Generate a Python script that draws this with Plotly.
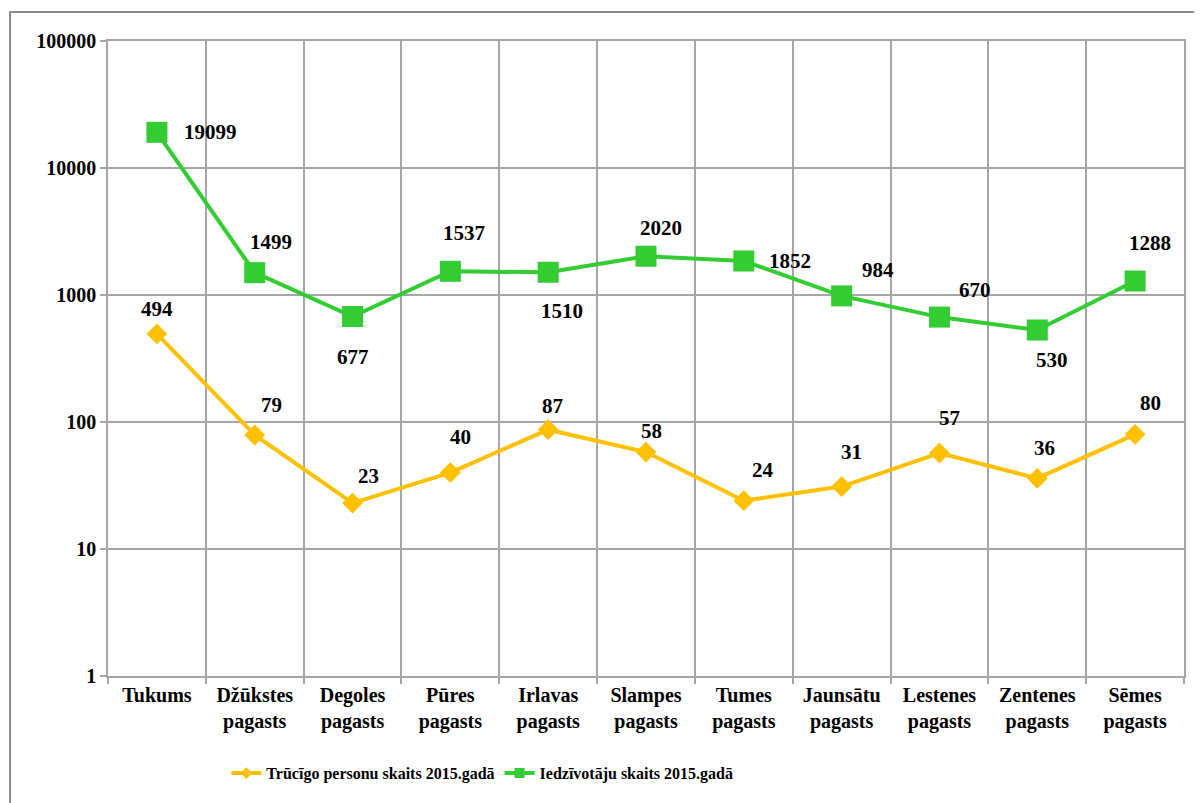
import numpy as np
import plotly.graph_objects as go

categories = ["Tukums", "Džūkstes<br>pagasts", "Degoles<br>pagasts", "Pūres<br>pagasts",
              "Irlavas<br>pagasts", "Slampes<br>pagasts", "Tumes<br>pagasts",
              "Jaunsātu<br>pagasts", "Lestenes<br>pagasts", "Zentenes<br>pagasts",
              "Sēmes<br>pagasts"]
poor_2015 = [494, 79, 23, 40, 87, 58, 24, 31, 57, 36, 80]
residents_2015 = [19099, 1499, 677, 1537, 1510, 2020, 1852, 984, 670, 530, 1288]
series_names = ["Trūcīgo personu skaits 2015.gadā", "Iedzīvotāju skaits 2015.gadā"]
y_tick_values = [1, 10, 100, 1000, 10000, 100000]

# label offsets in pixels (dx, dy up)
poor_offsets = [(0, 25), (17, 30), (16, 27), (10, 36), (4, 24), (5, 21), (19, 31),
                (10, 35), (10, 35), (7, 30), (15, 31)]
res_offsets = [(54, 0), (16, 31), (0, -40), (14, 38), (14, -39), (15, 28), (46, 0),
               (36, 26), (36, 27), (15, -30), (15, 38)]

FONT = "Liberation Serif"
ORANGE = "#FFC000"
GREEN = "#33CC33"
GRID = "#a6a6a6"

x = list(range(len(categories)))
fig = go.Figure()
fig.add_trace(go.Scatter(x=x, y=poor_2015, name=series_names[0], mode="lines+markers",
                         line=dict(color=ORANGE, width=4), showlegend=False,
                         marker=dict(symbol="diamond", size=16, color=ORANGE)))
fig.add_trace(go.Scatter(x=x, y=residents_2015, name=series_names[1], mode="lines+markers",
                         line=dict(color=GREEN, width=4), showlegend=False,
                         marker=dict(symbol="square", size=21, color=GREEN)))
# legend entries (line with small marker, as in the original legend)
fig.add_trace(go.Scatter(x=[None], y=[None], name=series_names[0], mode="lines+markers",
                         line=dict(color=ORANGE, width=4),
                         marker=dict(symbol="diamond", size=9, color=ORANGE)))
fig.add_trace(go.Scatter(x=[None], y=[None], name=series_names[1], mode="lines+markers",
                         line=dict(color=GREEN, width=4),
                         marker=dict(symbol="square", size=10, color=GREEN)))

annotations = []
for vals, offs in ((poor_2015, poor_offsets), (residents_2015, res_offsets)):
    for i, (v, (dx, dy)) in enumerate(zip(vals, offs)):
        annotations.append(dict(x=i, y=np.log10(v), text=str(v), showarrow=False,
                                xshift=dx, yshift=dy,
                                font=dict(family=FONT, size=21, color="black", weight="bold")))

bounds = [i - 0.5 for i in range(len(categories) + 1)]

fig.update_layout(
    width=1194, height=795,
    margin=dict(l=100, r=18, t=33, b=127),
    paper_bgcolor="white", plot_bgcolor="white",
    font=dict(family=FONT, color="black"),
    annotations=annotations,
    showlegend=True,
    legend=dict(orientation="h", x=0.11, xanchor="left", y=-0.153, yanchor="middle",
                font=dict(family=FONT, size=16, color="black", weight="bold"),
                itemwidth=30, bgcolor="rgba(0,0,0,0)"),
    shapes=[dict(type="rect", xref="paper", yref="paper", x0=-0.091, y0=-0.3,
                 x1=1.2, y1=1.0457, line=dict(color="#8c8c8c", width=2), layer="below")],
)
fig.update_xaxes(
    range=[-0.5, len(categories) - 0.5],
    tickvals=x, ticktext=categories, ticks="", showgrid=False,
    tickfont=dict(family=FONT, size=20, color="black", weight="bold"),
    showline=True, linecolor=GRID, linewidth=1.5, mirror=True,
    minor=dict(tickvals=bounds, showgrid=True, gridcolor=GRID, gridwidth=1.5,
               ticks="outside", ticklen=6, tickcolor=GRID, tickwidth=1.5),
    zeroline=False,
)
fig.update_yaxes(
    type="log", range=[0, 5],
    tickvals=y_tick_values, ticktext=[str(v) for v in y_tick_values],
    ticks="outside", ticklen=6, tickcolor=GRID, tickwidth=1.5,
    showgrid=True, gridcolor=GRID, gridwidth=1.5,
    tickfont=dict(family=FONT, size=20, color="black", weight="bold"),
    showline=True, linecolor=GRID, linewidth=1.5, mirror=True, zeroline=False,
)
fig.write_html("out.html")
